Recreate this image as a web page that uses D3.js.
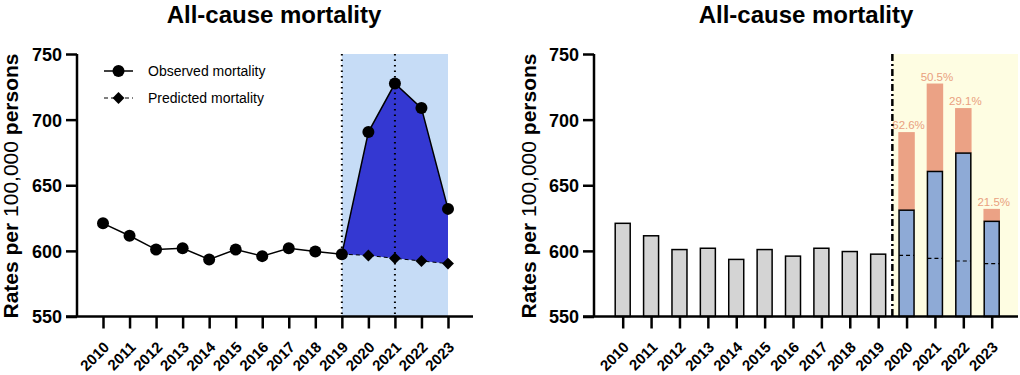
<!DOCTYPE html>
<html>
<head>
<meta charset="utf-8">
<script src="https://cdn.jsdelivr.net/npm/d3@7"></script>
<style>
  body { margin: 0; background: #fff; }
  svg { font-family: "Liberation Sans", Arial, sans-serif; }
</style>
</head>
<body>
<div id="chart"></div>
<script>
// data
var years = ["2010", "2011", "2012", "2013", "2014", "2015", "2016", "2017", "2018", "2019", "2020", "2021", "2022", "2023"];
var observed = [621, 611.5, 601, 602, 593.5, 601, 596, 602, 599.5, 597.5, 690.5, 727.5, 708.8, 632];
var predYears = ["2019", "2020", "2021", "2022", "2023"];
var predicted = [597.5, 596.5, 594.3, 592.3, 590.3];
var pandemicYears = ["2020", "2021", "2022", "2023"];
var baseValues = [631, 660.5, 674.5, 622.5];
var pctLabels = ["62.6%", "50.5%", "29.1%", "21.5%"];
var yTicks = [550, 600, 650, 700, 750];

var svg = d3.select("#chart").append("svg")
    .attr("width", 1020)
    .attr("height", 375);

var y = d3.scaleLinear().domain([550, 750]).range([316.5, 54]);

// shared bits for both panels
function drawFrame(g, opts) {
    g.append("text")
        .attr("x", opts.titleX).attr("y", 23)
        .attr("text-anchor", "middle")
        .style("font-size", "24px").style("font-weight", "bold")
        .text("All-cause mortality");

    var lab = g.append("text")
        .attr("transform", "translate(" + opts.labelX + "," + 186 + ") rotate(-90)")
        .attr("text-anchor", "middle")
        .style("font-size", "21px").style("font-weight", "bold");
    lab.append("tspan").text("Rates per ");
    lab.append("tspan").style("font-weight", "normal").text("100,000");
    lab.append("tspan").text(" persons");

    // y axis
    var yAxis = d3.axisLeft(y).tickValues(yTicks).tickSize(11).tickPadding(4);
    var yg = g.append("g")
        .attr("transform", "translate(" + opts.axisX + ",0)")
        .call(yAxis);
    yg.select(".domain").attr("stroke-width", 2.5).attr("d", "M0," + y(550) + "V" + y(750));
    yg.selectAll(".tick line").attr("stroke-width", 2.5);
    yg.selectAll(".tick text")
        .style("font-size", "18px").style("font-weight", "bold")
        .attr("dy", "0.36em");

    // x axis
    var xAxis = d3.axisBottom(opts.x).tickSize(12);
    var xg = g.append("g")
        .attr("transform", "translate(0," + y(550) + ")")
        .call(xAxis);
    xg.select(".domain").attr("stroke-width", 2.5)
        .attr("d", "M" + (opts.axisX - 11) + ",0H" + opts.axisEnd);
    xg.selectAll(".tick line").attr("stroke-width", 2.5);
    xg.selectAll(".tick text")
        .style("font-size", "15px").style("font-weight", "bold")
        .attr("text-anchor", "end")
        .attr("y", 0)
        .attr("dy", "0.35em")
        .attr("transform", "translate(3,28) rotate(-45)");
    return { yg: yg, xg: xg };
}

// ---------------- left panel ----------------
var xL = d3.scalePoint().domain(years).range([103, 448]);
var left = svg.append("g");

left.append("rect")
    .attr("x", xL("2019")).attr("y", y(750))
    .attr("width", xL("2023") - xL("2019"))
    .attr("height", y(550) - y(750))
    .attr("fill", "#c6dcf6");

var excess = predYears.map(function(yr, i) {
    return { yr: yr, obs: observed[years.indexOf(yr)], pred: predicted[i] };
});
left.append("path")
    .datum(excess)
    .attr("fill", "#3438d2")
    .attr("d", d3.area()
        .x(function(d) { return xL(d.yr); })
        .y0(function(d) { return y(d.pred); })
        .y1(function(d) { return y(d.obs); }));

["2019", "2021"].forEach(function(yr) {
    left.append("line")
        .attr("x1", xL(yr)).attr("x2", xL(yr))
        .attr("y1", y(750)).attr("y2", y(550))
        .attr("stroke", "#000").attr("stroke-width", 2)
        .attr("stroke-dasharray", "1.5,4");
});

var obsData = years.map(function(yr, i) { return { yr: yr, v: observed[i] }; });
var predData = predYears.map(function(yr, i) { return { yr: yr, v: predicted[i] }; });

left.append("path")
    .datum(predData)
    .attr("fill", "none").attr("stroke", "#000").attr("stroke-width", 1)
    .attr("stroke-dasharray", "4,3")
    .attr("d", d3.line().x(function(d) { return xL(d.yr); }).y(function(d) { return y(d.v); }));

left.append("path")
    .datum(obsData)
    .attr("fill", "none").attr("stroke", "#000").attr("stroke-width", 1.5)
    .attr("d", d3.line().x(function(d) { return xL(d.yr); }).y(function(d) { return y(d.v); }));

var diamond = d3.symbol().type(d3.symbolDiamond2).size(90);
left.selectAll(".pred")
    .data(predData.slice(1))
    .enter().append("path")
    .attr("class", "pred")
    .attr("transform", function(d) { return "translate(" + xL(d.yr) + "," + y(d.v) + ")"; })
    .attr("d", diamond);

left.selectAll(".obs")
    .data(obsData)
    .enter().append("circle")
    .attr("class", "obs")
    .attr("cx", function(d) { return xL(d.yr); })
    .attr("cy", function(d) { return y(d.v); })
    .attr("r", 6);

drawFrame(left, { titleX: 274, labelX: 18, axisX: 77, axisEnd: 473, x: xL });

// legend
var lg = left.append("g");
lg.append("line").attr("x1", 104).attr("x2", 133).attr("y1", 71).attr("y2", 71)
    .attr("stroke", "#000").attr("stroke-width", 1.5);
lg.append("circle").attr("cx", 118.5).attr("cy", 71).attr("r", 6);
lg.append("text").attr("x", 148).attr("y", 76).style("font-size", "14px").text("Observed mortality");
lg.append("line").attr("x1", 104).attr("x2", 133).attr("y1", 98).attr("y2", 98)
    .attr("stroke", "#000").attr("stroke-width", 1).attr("stroke-dasharray", "4,3");
lg.append("path").attr("transform", "translate(118.5,98)").attr("d", diamond);
lg.append("text").attr("x", 148).attr("y", 103).style("font-size", "14px").text("Predicted mortality");

// ---------------- right panel ----------------
var xR = d3.scalePoint().domain(years).range([622.7, 991.7]);
var barW = 15;
var right = svg.append("g");

var splitX = (xR("2019") + xR("2020")) / 2;
right.append("rect")
    .attr("x", splitX).attr("y", y(750))
    .attr("width", 1018 - splitX)
    .attr("height", y(550) - y(750))
    .attr("fill", "#fefde2");

right.selectAll(".gray")
    .data(obsData.filter(function(d) { return +d.yr < 2020; }))
    .enter().append("rect")
    .attr("class", "gray")
    .attr("x", function(d) { return xR(d.yr) - barW / 2; })
    .attr("y", function(d) { return y(d.v); })
    .attr("width", barW)
    .attr("height", function(d) { return y(550) - y(d.v); })
    .attr("fill", "#d4d4d4").attr("stroke", "#000").attr("stroke-width", 1.5);

var pan = pandemicYears.map(function(yr, i) {
    return { yr: yr, base: baseValues[i], obs: observed[years.indexOf(yr)],
             pred: predicted[predYears.indexOf(yr)], pct: pctLabels[i] };
});

right.selectAll(".excess")
    .data(pan)
    .enter().append("rect")
    .attr("class", "excess")
    .attr("x", function(d) { return xR(d.yr) - barW / 2 - 0.75; })
    .attr("y", function(d) { return y(d.obs); })
    .attr("width", barW + 1.5)
    .attr("height", function(d) { return y(d.base) - y(d.obs); })
    .attr("fill", "#eba285");

right.selectAll(".base")
    .data(pan)
    .enter().append("rect")
    .attr("class", "base")
    .attr("x", function(d) { return xR(d.yr) - barW / 2; })
    .attr("y", function(d) { return y(d.base); })
    .attr("width", barW)
    .attr("height", function(d) { return y(550) - y(d.base); })
    .attr("fill", "#8eaad6").attr("stroke", "#000").attr("stroke-width", 1.5);

right.selectAll(".predline")
    .data(pan)
    .enter().append("line")
    .attr("class", "predline")
    .attr("x1", function(d) { return xR(d.yr) - barW / 2; })
    .attr("x2", function(d) { return xR(d.yr) + barW / 2; })
    .attr("y1", function(d) { return y(d.pred); })
    .attr("y2", function(d) { return y(d.pred); })
    .attr("stroke", "#000").attr("stroke-width", 1.2)
    .attr("stroke-dasharray", "4,3");

right.selectAll(".pct")
    .data(pan)
    .enter().append("text")
    .attr("class", "pct")
    .attr("x", function(d) { return xR(d.yr) + 2; })
    .attr("y", function(d) { return y(d.obs) - 3; })
    .attr("text-anchor", "middle")
    .attr("fill", "#e9a080")
    .style("font-size", "11.5px")
    .text(function(d) { return d.pct; });

right.append("line")
    .attr("x1", splitX).attr("x2", splitX)
    .attr("y1", y(750)).attr("y2", y(550))
    .attr("stroke", "#000").attr("stroke-width", 2.5)
    .attr("stroke-dasharray", "7,3,2,3");

drawFrame(right, { titleX: 806, labelX: 536, axisX: 594, axisEnd: 1018, x: xR });
</script>
</body>
</html>
